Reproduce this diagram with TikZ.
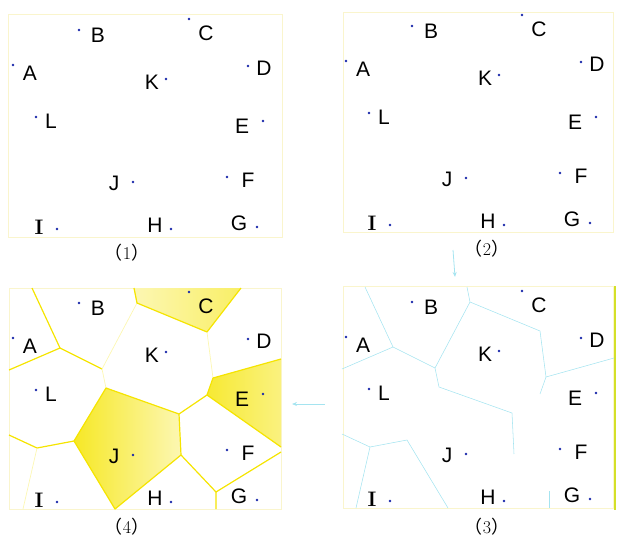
\documentclass[tikz,border=0pt]{standalone}
\usepackage{fontspec}
\newfontfamily\labelfont{Liberation Sans}
\newfontfamily\cjk{Noto Sans CJK SC}
\usepackage{tikz}
\usetikzlibrary{arrows.meta, positioning}

\definecolor{sitedot}{RGB}{25,40,170}
\definecolor{cellline}{RGB}{245,228,0}
\definecolor{framefaint}{RGB}{250,245,205}
\definecolor{edgecyan}{RGB}{165,228,240}
\definecolor{edgelime}{RGB}{212,224,40}

%% twelve sites in the pixel frame of one panel (y runs down)
\newcommand{\sites}[1]{%
  \node[site] (#1A) at (13,65)   {};
  \node[site] (#1B) at (79,30)   {};
  \node[site] (#1C) at (189,19)  {};
  \node[site] (#1D) at (248,66)  {};
  \node[site] (#1K) at (166,79)  {};
  \node[site] (#1L) at (36,117)  {};
  \node[site] (#1E) at (263,121) {};
  \node[site] (#1J) at (133,182) {};
  \node[site] (#1F) at (227,177) {};
  \node[site] (#1I) at (57,229)  {};
  \node[site] (#1H) at (171,229) {};
  \node[site] (#1G) at (257,227) {};
  \node[lab, shift={(17,8)}]   at (#1A) {A};
  \node[lab, shift={(19,5)}]   at (#1B) {B};
  \node[lab, shift={(17,14)}]  at (#1C) {C};
  \node[lab, shift={(16,2)}]   at (#1D) {D};
  \node[lab, shift={(-14,3)}]  at (#1K) {K};
  \node[lab, shift={(15,4)}]   at (#1L) {L};
  \node[lab, shift={(-21,5)}]  at (#1E) {E};
  \node[lab, shift={(-19,1)}]  at (#1J) {J};
  \node[lab, shift={(21,3)}]   at (#1F) {F};
  \node[lab, shift={(-18,-2)}] at (#1I) {{\rmfamily\bfseries I}};
  \node[lab, shift={(-16,-4)}] at (#1H) {H};
  \node[lab, shift={(-18,-4)}] at (#1G) {G};
}

%% vertices of the cells
\newcommand{\cellpts}[1]{%
  \coordinate (#1p1)  at (32,15);
  \coordinate (#1p2)  at (60,75);
  \coordinate (#1p3)  at (9,97);
  \coordinate (#1p4)  at (102,96);
  \coordinate (#1p5)  at (106,115);
  \coordinate (#1p6)  at (179,141);
  \coordinate (#1p7)  at (181,182);
  \coordinate (#1p8)  at (115,236);
  \coordinate (#1p9)  at (74,168);
  \coordinate (#1p10) at (37,175);
  \coordinate (#1p11) at (9,162);
  \coordinate (#1p12) at (23,236);
  \coordinate (#1p13) at (134,15);
  \coordinate (#1p14) at (241,15);
  \coordinate (#1p15) at (207,59);
  \coordinate (#1p16) at (137,30);
  \coordinate (#1p17) at (213,105);
  \coordinate (#1p18) at (281,86);
  \coordinate (#1p19) at (281,174);
  \coordinate (#1p20) at (207,122);
  \coordinate (#1p21) at (216,219);
  \coordinate (#1p22) at (281,179);
  \coordinate (#1p23) at (216,236);
}

\begin{document}
\begin{tikzpicture}[
  x=1pt, y=-1pt,
  site/.style={circle, fill=sitedot, inner sep=0pt, minimum size=2.8pt},
  lab/.style={font=\labelfont\fontsize{21}{21}\selectfont, inner sep=0pt},
  capt/.style={font=\fontsize{18}{18}\selectfont, inner sep=0pt},
  panelbox/.style={draw=framefaint, line width=0.8pt},
  yedge/.style={draw=cellline, line width=1.2pt, line join=round},
  yfaint/.style={draw=cellline!30, line width=0.7pt},
  cedge/.style={draw=edgecyan, line width=0.55pt},
  flow/.style={-{Stealth[length=5pt, width=4pt]}, draw=edgecyan, line width=0.8pt}
]
\useasboundingbox (0,0) rectangle (617,538);

%% (1) the sites
\begin{scope}
  \draw[panelbox] (8,14) rectangle (282,237);
  \sites{a}
\end{scope}
\node[capt] (cap1) at (127,253) {{\cjk （}1{\cjk ）}};

%% (2) the sites again
\begin{scope}[shift={(333,-4)}]
  \draw[panelbox] (10,16) rectangle (280,236);
  \sites{b}
\end{scope}
\node[capt] (cap2) at (487,249) {{\cjk （}2{\cjk ）}};

%% (3) cell edges, faint
\begin{scope}[shift={(333,272)}]
  \draw[panelbox] (10,14) rectangle (280,236);
  \draw[draw=edgelime, line width=2pt] (282,14) -- (282,238);
  \cellpts{c}
  \draw[cedge] (cp1) -- (cp2) -- (cp3);
  \draw[cedge] (cp2) -- (cp4) -- (cp16) -- (cp13);
  \draw[cedge] (cp16) -- (cp15) -- (cp17) -- (cp18);
  \draw[cedge] (cp17) -- (cp20);
  \draw[cedge] (cp4) -- (cp5) -- (cp6) -- (cp7);
  \draw[cedge] (cp11) -- (cp10) -- (cp9) -- (cp8);
  \draw[cedge] (cp10) -- (cp12);
  \draw[cedge] (cp21) -- (cp23);
  \sites{c}
\end{scope}
\node[capt] (cap3) at (487,527) {{\cjk （}3{\cjk ）}};

%% (4) cells, four of them shaded
\begin{scope}[shift={(0,273)}]
  \draw[panelbox] (9,15) rectangle (281,236);
  \cellpts{d}
  \shade[left color=cellline!30, right color=cellline!60]
    (dp13) -- (dp14) -- (dp15) -- (dp16) -- cycle;
  \shade[left color=cellline!85, right color=cellline!30]
    (dp5) -- (dp6) -- (dp7) -- (dp8) -- (dp9) -- cycle;
  \shade[left color=cellline!80, right color=cellline!50]
    (dp17) -- (dp18) -- (dp19) -- (dp20) -- cycle;
  \draw[yedge] (dp1) -- (dp2) -- (dp3);
  \draw[yedge] (dp2) -- (dp4);
  \draw[yfaint] (dp4) -- (dp5);
  \draw[yfaint] (dp4) -- (dp16);
  \draw[yedge] (dp13) -- (dp16) -- (dp15) -- (dp14);
  \draw[yfaint] (dp15) -- (dp17);
  \draw[yedge] (dp18) -- (dp17) -- (dp20) -- (dp19);
  \draw[yedge] (dp20) -- (dp6);
  \draw[yedge] (dp9) -- (dp5) -- (dp6) -- (dp7) -- (dp8) -- (dp9);
  \draw[yedge] (dp9) -- (dp10) -- (dp11);
  \draw[yfaint] (dp10) -- (dp12);
  \draw[yedge] (dp7) -- (dp21);
  \draw[yedge] (dp22) -- (dp21) -- (dp23);
  \sites{d}
\end{scope}
\node[capt] (cap4) at (127,527) {{\cjk （}4{\cjk ）}};

%% faint arrows between the panels
\coordinate (down_s) at (453,250);
\coordinate (down_e) at (455,277);
\coordinate (left_s) at (325,404);
\coordinate (left_e) at (292,404);
\draw[flow] (down_s) -- (down_e);
\draw[flow] (left_s) -- (left_e);
\end{tikzpicture}
\end{document}
